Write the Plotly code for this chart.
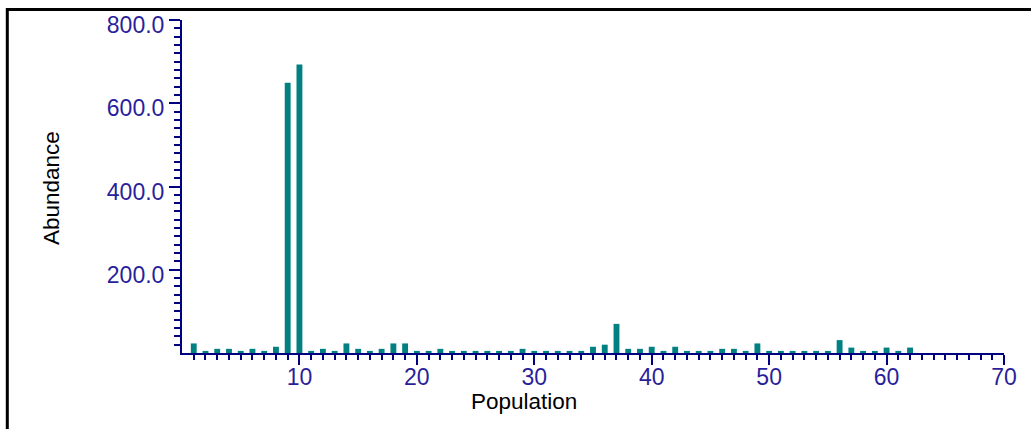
import plotly.graph_objects as go

# Abundance per population index (1..62)
population = list(range(1, 63))
abundance = [
    23, 5, 10, 10, 5, 10, 5, 15, 649, 693,
    5, 10, 5, 23, 10, 5, 10, 23, 23, 5,
    5, 10, 5, 5, 5, 5, 5, 5, 10, 5,
    5, 5, 5, 5, 15, 20, 70, 10, 10, 15,
    5, 15, 5, 5, 5, 10, 10, 5, 23, 5,
    5, 5, 5, 5, 5, 31, 13, 5, 5, 13,
    5, 13,
]

x_major = [10, 20, 30, 40, 50, 60, 70]
y_major = [200, 400, 600, 800]

W, H = 1031, 429
L, R, T, B = 182, 27, 20, 76
pw, ph = W - L - R, H - T - B

AXIS = "#000080"
TICKTXT = "#2a1f9a"
FONT = "Liberation Sans, Arial, sans-serif"


def px_x(p):
    return (p - L) / pw


def px_y(p):
    return (H - B - p) / ph


fig = go.Figure(
    go.Bar(
        x=population,
        y=abundance,
        width=0.5,
        marker=dict(color="#008080", line=dict(width=0)),
        hoverinfo="x+y",
    )
)

fig.update_xaxes(
    range=[0, 70],
    tickmode="array",
    tickvals=x_major,
    ticktext=[str(v) for v in x_major],
    ticks="outside",
    ticklen=10,
    tickwidth=2,
    tickcolor=AXIS,
    ticklabelstandoff=-8,
    minor=dict(
        tickmode="array",
        tickvals=[v for v in range(1, 70) if v % 10],
        ticks="outside",
        ticklen=5,
        tickwidth=2,
        tickcolor=AXIS,
        showgrid=False,
    ),
    showline=True,
    linecolor=AXIS,
    linewidth=2,
    showgrid=False,
    zeroline=False,
    tickfont=dict(family=FONT, size=23, color=TICKTXT),
    fixedrange=True,
)

fig.update_yaxes(
    range=[0, 800],
    tickmode="array",
    tickvals=y_major,
    ticktext=[f"{v:.1f}" for v in y_major],
    ticks="outside",
    ticklen=11,
    tickwidth=2,
    tickcolor=AXIS,
    ticklabelshift=5,
    minor=dict(
        tickmode="array",
        tickvals=[v for v in range(20, 800, 20) if v % 200],
        ticks="outside",
        ticklen=6,
        tickwidth=2,
        tickcolor=AXIS,
        showgrid=False,
    ),
    showline=True,
    linecolor=AXIS,
    linewidth=2,
    showgrid=False,
    zeroline=False,
    tickfont=dict(family=FONT, size=23, color=TICKTXT),
    fixedrange=True,
)

fig.update_layout(
    width=W,
    height=H,
    margin=dict(l=L, r=R, t=T, b=B, pad=0),
    paper_bgcolor="white",
    plot_bgcolor="white",
    showlegend=False,
    font=dict(family=FONT, color="black"),
    shapes=[
        # outer frame
        dict(
            type="rect",
            xref="paper",
            yref="paper",
            x0=px_x(7.3),
            x1=px_x(W + 20),
            y0=px_y(H + 20),
            y1=px_y(9.5),
            line=dict(color="black", width=3),
            fillcolor="rgba(0,0,0,0)",
            layer="below",
        )
    ],
    annotations=[
        dict(
            text="Abundance",
            xref="paper",
            yref="paper",
            x=px_x(52),
            y=px_y(188),
            showarrow=False,
            textangle=-90,
            font=dict(family=FONT, size=22.5, color="black"),
            xanchor="center",
            yanchor="middle",
        ),
        dict(
            text="Population",
            xref="paper",
            yref="paper",
            x=px_x(524),
            y=px_y(401),
            showarrow=False,
            font=dict(family=FONT, size=22.5, color="black"),
            xanchor="center",
            yanchor="middle",
        ),
    ],
)

fig.write_html("out.html", config={"displayModeBar": False})
